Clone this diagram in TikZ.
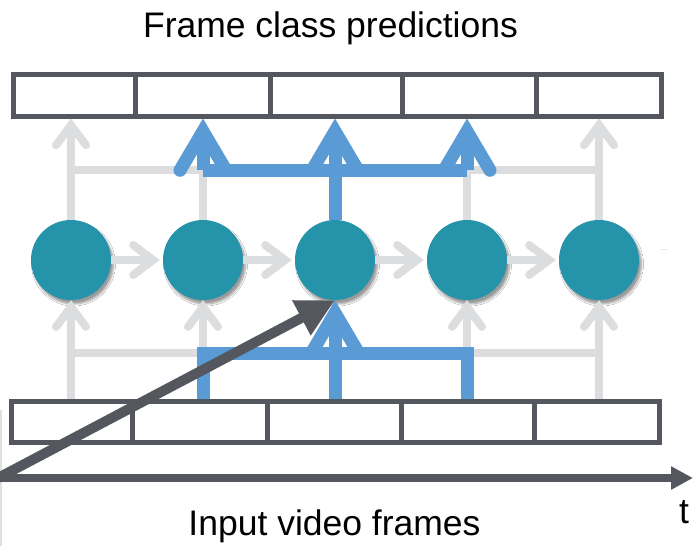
\documentclass[tikz,border=0pt]{standalone}
\usepackage{fontspec}
\setmainfont{Liberation Sans}
\usetikzlibrary{arrows.meta,shadows.blur}
\definecolor{tealc}{RGB}{37,148,170}
\definecolor{bluel}{RGB}{91,155,213}
\definecolor{lgray}{RGB}{220,221,223}
\definecolor{dgray}{RGB}{84,88,94}
\begin{document}
\begin{tikzpicture}[x=1pt,y=-1pt,
  cell/.style={draw=dgray, line width=5pt, fill=white, rectangle, inner sep=0pt},
  unit/.style={circle, fill=tealc, minimum size=80pt, inner sep=0pt,
    blur shadow={shadow xshift=2.5pt, shadow yshift=-4pt, shadow blur radius=2pt, shadow blur steps=6, shadow opacity=40}},
  gline/.style={draw=lgray, line width=8pt},
  garrow/.style={gline, -{Straight Barb[length=20pt, width=30pt, line cap=round]}},
  bline/.style={draw=bluel, line width=13pt},
  barrow/.style={bline, -{Straight Barb[length=39pt, width=46pt, line cap=round, line join=miter]}},
  darrow/.style={draw=dgray, line width=10pt, -{Triangle[length=38pt, width=37pt]}},
  taxis/.style={draw=dgray, line width=8pt, -{Triangle[length=22pt, width=22pt]}},
  lbl/.style={font=\fontsize{35.5}{40}\selectfont, inner sep=0pt, anchor=base}
]
\useasboundingbox (0,0) rectangle (693,546);
\fill[white] (0,0) rectangle (693,546);
\draw[black!12, line width=1.5pt] (0.75,410) -- (0.75,546);

% top bar (predictions)
\node[cell, minimum width=121.5pt, minimum height=41.5pt] (t1) at (74.25,95.25) {};
\node[cell, minimum width=135.5pt, minimum height=41.5pt] (t2) at (202.75,95.25) {};
\node[cell, minimum width=131.5pt, minimum height=41.5pt] (t3) at (336.25,95.25) {};
\node[cell, minimum width=134.5pt, minimum height=41.5pt] (t4) at (469.25,95.25) {};
\node[cell, minimum width=124.5pt, minimum height=41.5pt] (t5) at (598.75,95.25) {};

% bottom bar (input frames)
\node[cell, minimum width=121pt, minimum height=41pt] (b1) at (72,422) {};
\node[cell, minimum width=134.5pt, minimum height=41pt] (b2) at (199.75,422) {};
\node[cell, minimum width=134pt, minimum height=41pt] (b3) at (334,422) {};
\node[cell, minimum width=133.5pt, minimum height=41pt] (b4) at (467.75,422) {};
\node[cell, minimum width=125pt, minimum height=41pt] (b5) at (597,422) {};

% recurrent units
\node[unit] (c1) at (71,260) {};
\node[unit] (c2) at (203,260) {};
\node[unit] (c3) at (335,260) {};
\node[unit] (c4) at (467,260) {};
\node[unit] (c5) at (599,260) {};

% junctions
\coordinate (u1) at (71,170);
\coordinate (u2) at (203,170);
\coordinate (u3) at (335,170);
\coordinate (u4) at (467,170);
\coordinate (u5) at (599,170);
\coordinate (l1) at (71,353);
\coordinate (l2) at (203,353);
\coordinate (l3) at (335,353);
\coordinate (l4) at (467,353);
\coordinate (l5) at (599,353);

% gray lower connections
\draw[gline] (l1 |- b1.north) -- (l1);
\draw[gline] (l5 |- b5.north) -- (l5);
\draw[gline] (l1) -- (l5);
\draw[garrow] (l1) -- (c1.south);
\draw[garrow] (l2) -- (c2.south);
\draw[garrow] (l4) -- (c4.south);
\draw[garrow] (l5) -- (c5.south);

% gray upper connections
\draw[gline] (c1.north) -- (u1);
\draw[gline] (c2.north) -- (u2);
\draw[gline] (c4.north) -- (u4);
\draw[gline] (c5.north) -- (u5);
\draw[gline] (u1) -- (u5);
\draw[garrow] (u1) -- (u1 |- t1.south);
\draw[garrow] (u5) -- (u5 |- t5.south);

% recurrent arrows
\draw[garrow, shorten >=3pt] (c1.east) -- (c2.west);
\draw[garrow, shorten >=3pt] (c2.east) -- (c3.west);
\draw[garrow, shorten >=3pt] (c3.east) -- (c4.west);
\draw[garrow, shorten >=3pt] (c4.east) -- (c5.west);

% blue receptive field
\draw[bline] (l2 |- b2.north) -- (l2) -- (l4) -- (l4 |- b4.north);
\draw[barrow] (l3 |- b3.north) -- (c3.south);
\draw[bline] (c3.north) -- (u3);
\draw[bline] (u2) -- (u4);
\draw[barrow] (u2) -- (u2 |- t2.south);
\draw[barrow] (u3) -- (u3 |- t3.south);
\draw[barrow] (u4) -- (u4 |- t4.south);

% time axis and input arrow
\coordinate (o) at (-2,478);
\coordinate (tend) at (693,478);
\draw[taxis] (o) -- (tend);
\draw[darrow] (o) -- (c3.south);

% labels
\node[lbl] (title) at (330.5,37.3) {Frame class predictions};
\node[lbl] (inlbl) at (334.5,535) {Input video frames};
\node[lbl, anchor=base west] (tlbl) at (679,523) {t};
\node[font=\fontsize{9}{10}\selectfont, text=black!25, inner sep=0pt, anchor=base] (dots) at (664,250) {...};
\end{tikzpicture}
\end{document}
